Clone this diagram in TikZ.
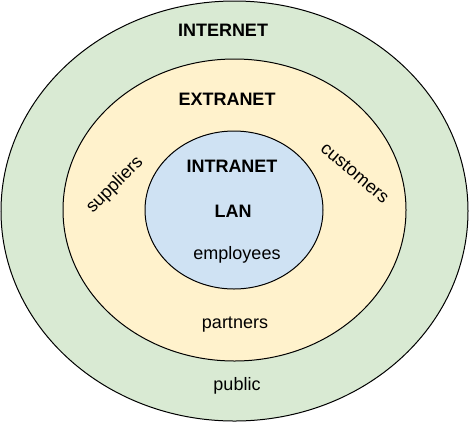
\documentclass[tikz,border=0pt]{standalone}
\usepackage{fontspec}
\setmainfont{Liberation Sans}
\definecolor{webgreen}{HTML}{D9EAD3}
\definecolor{webyellow}{HTML}{FFF2CC}
\definecolor{webblue}{HTML}{CFE2F3}
\begin{document}
\begin{tikzpicture}[x=1pt, y=-1pt, line width=1pt,
    ring/.style={draw=black, fill=#1},
    lbl/.style={inner sep=0pt, font=\fontsize{18}{21}\selectfont},
    head/.style={lbl, font=\fontsize{18}{21}\selectfont\bfseries}]
    \useasboundingbox (0,0) rectangle (473,426);
    \draw[ring=webgreen](234.5,211) ellipse [x radius=233.5, y radius=210];
    \draw[ring=webyellow](234.5,210) ellipse [x radius=171.5, y radius=151];
    \draw[ring=webblue](234,210) ellipse [x radius=89, y radius=79];

\node[head] (internet) at (223,30) {INTERNET};
\node[head] (extranet) at (227,99) {EXTRANET};
\node[head] (intranet) at (232,166) {INTRANET};
\node[head] (lan) at (233,211) {LAN};

\node[lbl] (employees) at (237,255) {employees};
\node[lbl] (partners) at (235,325) {partners};
\node[lbl] (public) at (237,386) {public};
\node[lbl, rotate=45] (suppliers) at (115,185) {suppliers};
\node[lbl, rotate=-40] (customers) at (355,173) {customers};

\end{tikzpicture}
\end{document}
